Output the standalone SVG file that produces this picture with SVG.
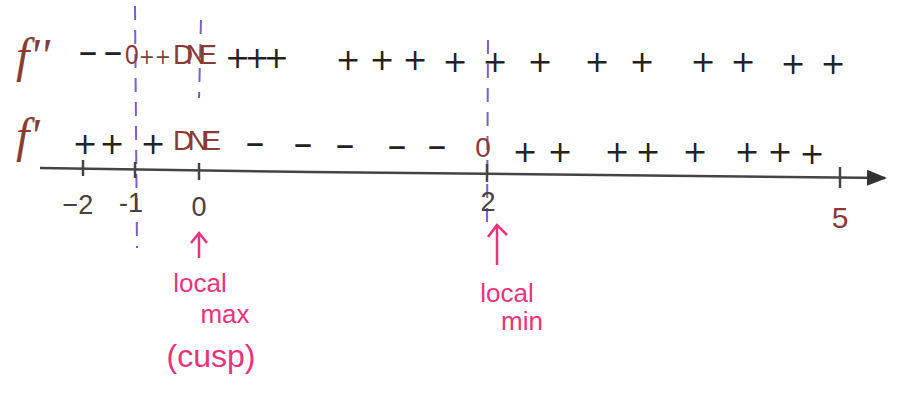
<svg xmlns="http://www.w3.org/2000/svg" width="899" height="405" viewBox="0 0 899 405">
<style>
.pl{font-family:"DejaVu Sans","Liberation Sans",sans-serif;font-size:30px;fill:#222;text-anchor:middle}
.mn{font-family:"DejaVu Sans","Liberation Sans",sans-serif;font-size:38px;fill:#222;text-anchor:middle}
.br{font-family:"Liberation Sans",sans-serif;font-size:28px;fill:#8a3b36;text-anchor:middle}
.sp{font-family:"DejaVu Sans","Liberation Sans",sans-serif;font-size:22px;fill:#6b4a3a}
.fn{font-family:"Liberation Serif",serif;font-style:italic;font-size:48px;fill:#8a3b36}
.ax{font-family:"Liberation Sans",sans-serif;font-size:27px;fill:#4a4040;text-anchor:middle}
.pk{font-family:"Liberation Sans",sans-serif;font-size:26px;fill:#e8347c;text-anchor:middle}
.dash{stroke:#7a5fd0;stroke-width:2;stroke-dasharray:14 10;fill:none}
</style>
<defs>
<marker id="ah" viewBox="0 0 10 10" refX="9" refY="5" markerWidth="8" markerHeight="8" orient="auto"><path d="M0,1 L10,5 L0,9 z" fill="#333"/></marker>
</defs>
<rect width="899" height="405" fill="#fff"/>
<g id="guides">
<line class="dash" x1="135" y1="6" x2="137" y2="248"/>
<line class="dash" x1="201" y1="20" x2="199" y2="98"/>
<line class="dash" x1="488" y1="40" x2="487" y2="232"/>
</g>
<g id="axis">
<path d="M40,168 L310,172 L885,178" stroke="#444" stroke-width="2.5" fill="none" marker-end="url(#ah)"/>
<g stroke="#444" stroke-width="2.5">
<line x1="83" y1="160" x2="83" y2="176"/>
<line x1="135" y1="162" x2="135" y2="178"/>
<line x1="199" y1="163" x2="199" y2="180"/>
<line x1="487" y1="164" x2="487" y2="182"/>
<line x1="840" y1="167" x2="840" y2="188"/>
</g>
<text class="ax" x="78" y="214">−2</text>
<text class="ax" x="131" y="212">-1</text>
<text class="ax" x="199" y="216">0</text>
<text class="ax" x="488" y="211">2</text>
<text class="br" x="840" y="228" style="font-size:30px">5</text>
</g>
<g id="row-f2">
<text class="fn" x="16" y="72">f''</text>
<text class="mn" x="88" y="64">–</text>
<text class="mn" x="113" y="64">–</text>
<text class="br" x="148" y="64" textLength="46" lengthAdjust="spacingAndGlyphs">0<tspan class="sp">++</tspan></text>
<text class="br" x="195" y="64" textLength="44">DNE</text>
<text class="pl" x="257" y="68" textLength="64">+++</text>
<text class="pl" x="348" y="70">+</text><text class="pl" x="382" y="70">+</text><text class="pl" x="415" y="70">+</text>
<text class="pl" x="455" y="72">+</text><text class="pl" x="495" y="72">+</text><text class="pl" x="540" y="72">+</text>
<text class="pl" x="597" y="72">+</text><text class="pl" x="642" y="72">+</text><text class="pl" x="703" y="72">+</text>
<text class="pl" x="743" y="72">+</text><text class="pl" x="793" y="74">+</text><text class="pl" x="833" y="74">+</text>
</g>
<g id="row-f1">
<text class="fn" x="16" y="152">f'</text>
<text class="pl" x="85" y="154">+</text><text class="pl" x="112" y="154">+</text><text class="pl" x="153" y="154">+</text>
<text class="br" x="197" y="150" textLength="48">DNE</text>
<text class="mn" x="255" y="155">–</text><text class="mn" x="303" y="156">–</text><text class="mn" x="345" y="157">–</text>
<text class="mn" x="397" y="158">–</text><text class="mn" x="437" y="158">–</text>
<text class="br" x="483" y="157">0</text>
<text class="pl" x="525" y="162">+</text><text class="pl" x="560" y="162">+</text><text class="pl" x="617" y="162">+</text>
<text class="pl" x="648" y="162">+</text><text class="pl" x="695" y="162">+</text><text class="pl" x="747" y="162">+</text>
<text class="pl" x="780" y="162">+</text><text class="pl" x="812" y="164">+</text>
</g>
<g id="local-max">
<path d="M199,258 L199,234 M191,243 L199,233 L207,243" stroke="#e8347c" stroke-width="2.5" fill="none"/>
<text class="pk" x="200" y="292">local</text>
<text class="pk" x="225" y="323">max</text>
<text class="pk" x="211" y="367" style="font-size:32px">(cusp)</text>
</g>
<g id="local-min">
<path d="M497,265 L497,226 M488,237 L497,225 L507,235" stroke="#e8347c" stroke-width="2.5" fill="none"/>
<text class="pk" x="507" y="302">local</text>
<text class="pk" x="522" y="330">min</text>
</g>
</svg>
